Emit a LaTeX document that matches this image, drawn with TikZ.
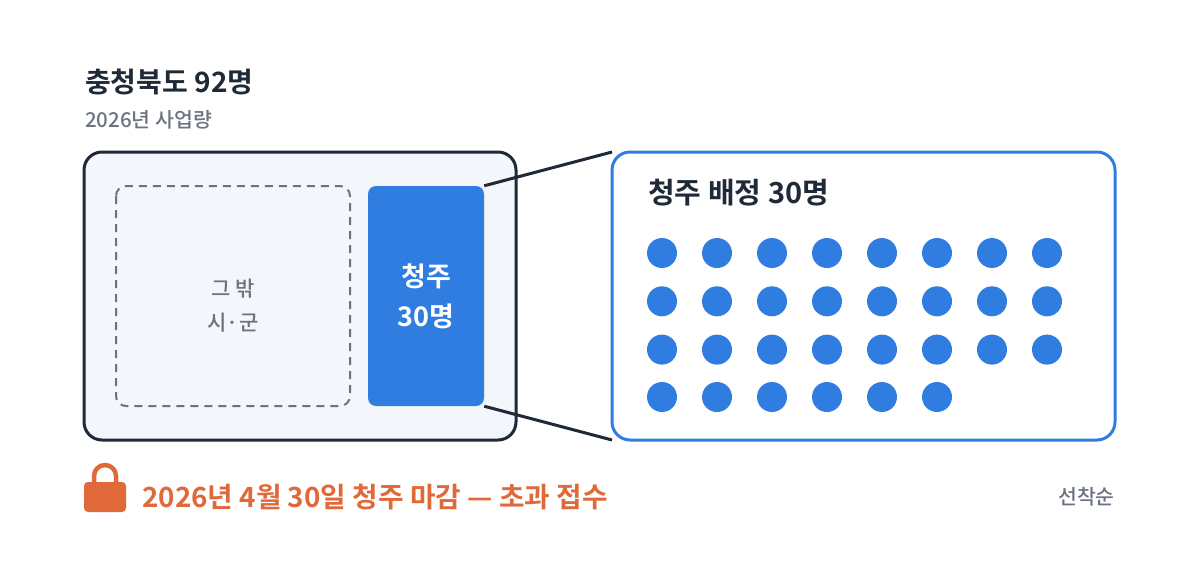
\documentclass[tikz,border=0pt]{standalone}
\usepackage{fontspec}
\setmainfont{Noto Sans CJK KR}[BoldFont=* Bold]
\newfontfamily\krmed{Noto Sans CJK KR}[UprightFont=* Medium]
\definecolor{ink}{HTML}{1F2937}
\definecolor{muted}{HTML}{6B7280}
\definecolor{cjblue}{HTML}{2F7DE1}
\definecolor{panel}{HTML}{F3F6FA}
\definecolor{warn}{HTML}{E0693A}
\tikzset{
  label/.style={anchor=west, inner sep=0pt},
  dot/.style={circle, fill=cjblue, minimum size=30pt, inner sep=0pt}
}
\begin{document}
\begin{tikzpicture}[x=1pt, y=-1pt]
    \useasboundingbox (0,0) rectangle (1200,576);

    \node[label, text=ink, font=\fontsize{28}{30}\selectfont\bfseries] (title) at (85,82) {충청북도 92명};
    \node[label, text=muted, font=\fontsize{20.5}{24}\selectfont\krmed] (sub) at (85,120) {2026년 사업량};

    % province box
    \draw[ink, line width=3pt, fill=panel, rounded corners=18pt] (84,152) rectangle (516,440);
    \draw[muted, line width=2pt, dash pattern=on 8pt off 6pt, rounded corners=10pt] (116,186) rectangle (350,406);
    \node[text=muted, align=center, font=\fontsize{21}{34}\selectfont\krmed] (other) at (233,306) {그 밖\\시·군};
    \node[fill=cjblue, rounded corners=8pt, minimum width=116pt, minimum height=220pt, inner sep=0pt] (cj) at (426,296) {};
    \node[text=white, align=center, font=\fontsize{27}{40}\selectfont\bfseries] at (cj) {청주\\30명};

    % zoom
    \coordinate (zt) at (612,152);
    \coordinate (zb) at (612,440);
    \draw[ink, line width=3pt] (cj.north east) -- (zt);
    \draw[ink, line width=3pt] (cj.south east) -- (zb);
    \draw[cjblue, line width=3pt, fill=white, rounded corners=18pt] (612,152) rectangle (1115,440);
    \node[label, text=ink, font=\fontsize{29}{30}\selectfont\bfseries] (head) at (648,193) {청주 배정 30명};
    \foreach \r in {0,1,2}
      \foreach \c in {0,...,7}
        \node[dot] (d\r\c) at ({662+55*\c},{253+48.3*\r}) {};
    \foreach \c in {0,...,5}
      \node[dot] (d3\c) at ({662+55*\c},397) {};

    % deadline
    \draw[warn, line width=4.5pt] (94,486) -- (94,476) arc (180:360:11) -- (116,486);
    \fill[warn, rounded corners=4pt] (84,482) rectangle (126,512);
    \node[label, text=warn, font=\fontsize{27.8}{30}\selectfont\bfseries] (due) at (142,497) {2026년 4월 30일 청주 마감 — 초과 접수};
    \node[anchor=east, inner sep=0pt, text=muted, font=\fontsize{20.5}{24}\selectfont\krmed] (first) at (1115,497) {선착순};
\end{tikzpicture}
\end{document}
